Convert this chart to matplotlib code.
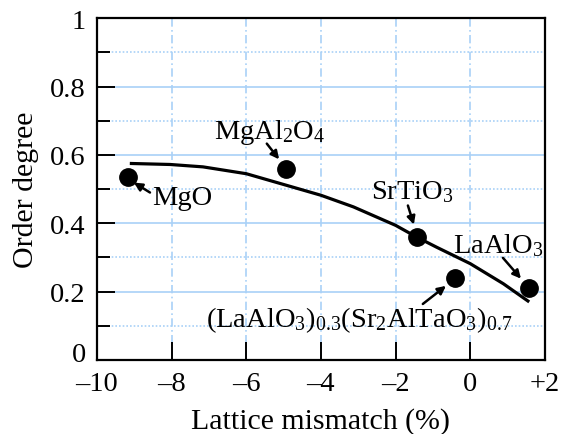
import numpy as np
import matplotlib
matplotlib.use('Agg')
import matplotlib.pyplot as plt
import matplotlib.transforms as mtransforms
from matplotlib.ticker import MultipleLocator

plt.rcParams['font.family'] = ['Liberation Serif', 'DejaVu Serif']
plt.rcParams['mathtext.fontset'] = 'custom'
plt.rcParams['mathtext.rm'] = 'Liberation Serif'
plt.rcParams['mathtext.it'] = 'Liberation Serif:italic'

# measured points
names = ['MgO', r'MgAl$_2$O$_4$', r'SrTiO$_3$',
         r'(LaAlO$_3$)$_{0.3}$(Sr$_2$AlTaO$_3$)$_{0.7}$', r'LaAlO$_3$']
mismatch = [-9.17, -4.94, -1.43, -0.41, 1.57]
order = [0.534, 0.560, 0.361, 0.240, 0.211]

# trend curve
curve_x = [-9.12, -8.04, -7.16, -6.0, -4.92, -4.0, -3.13, -2.0, -1.44, -0.90, 0.0, 0.89, 1.58]
curve_y = [0.575, 0.572, 0.565, 0.545, 0.511, 0.482, 0.448, 0.394, 0.360, 0.330, 0.282, 0.223, 0.170]

xticks = [-10, -8, -6, -4, -2, 0, 2]
xticklabels = ['\u201310', '\u20138', '\u20136', '\u20134', '\u20132', '0', '+2']
yticks = [0, 0.2, 0.4, 0.6, 0.8, 1.0]
yticklabels = ['0', '0.2', '0.4', '0.6', '0.8', '1']

# label placement: (text x, text y, ha, arrow tail, arrow head)
label_pos = [
    (-8.53, 0.475, 'left', (-8.58, 0.49), (-9.01, 0.519)),
    (-6.87, 0.669, 'left', (-5.45, 0.633), (-5.12, 0.587)),
    (-2.66, 0.493, 'left', (-1.67, 0.452), (-1.51, 0.396)),
    (-2.98, 0.120, 'center', (-1.27, 0.164), (-0.65, 0.217)),
    (-0.46, 0.337, 'left', (0.876, 0.299), (1.36, 0.238)),
]

grid_c = '#a9d1f7'

fig = plt.figure(figsize=(5.67, 4.35), dpi=100)
ax = fig.add_axes([0.171, 0.170, 0.790, 0.786])

ax.set_xlim(-10, 2)
ax.set_ylim(0, 1)

# grid
for y in np.arange(0.2, 1.0, 0.2):
    ax.axhline(y, color=grid_c, lw=1.2, zorder=0)
for y in np.arange(0.1, 1.0, 0.2):
    ax.axhline(y, color=grid_c, lw=1.2, ls=(0, (1, 1.2)), zorder=0)
for x in [-8, -6, -4, -2, 0]:
    ax.axvline(x, color=grid_c, lw=1.2, ls=(0, (5, 2, 1, 2)), zorder=0)

ax.plot(curve_x, curve_y, color='black', lw=2.3, zorder=2,
        solid_joinstyle='round', solid_capstyle='butt')
ax.plot(mismatch, order, 'o', color='black', ms=12.5, zorder=3)

for name, (tx, ty, ha, tail, head) in zip(names, label_pos):
    ax.text(tx, ty, name, fontsize=20.5, ha=ha, va='center', zorder=4)
    ax.annotate('', xy=head, xytext=tail,
                arrowprops=dict(arrowstyle='-|>', color='black', lw=1.8,
                                mutation_scale=12, shrinkA=0, shrinkB=0))

ax.set_xticks(xticks)
ax.set_xticklabels(xticklabels)
ax.set_yticks(yticks)
ax.set_yticklabels(yticklabels)
ax.yaxis.set_minor_locator(MultipleLocator(0.1))
ax.tick_params(which='major', direction='in', length=13, width=1.4, labelsize=20.5, pad=8)
ax.tick_params(which='minor', direction='in', length=9, width=1.4)
ax.tick_params(axis='x', which='minor', length=0)

# the "0" on the y axis sits a bit higher, clear of the x labels
zero_lbl = ax.get_yticklabels()[0]
zero_lbl.set_transform(zero_lbl.get_transform() +
                       mtransforms.ScaledTranslation(0, 6 / 72, fig.dpi_scale_trans))

for s in ax.spines.values():
    s.set_linewidth(1.6)

ax.set_xlabel('Lattice mismatch (%)', fontsize=21.5, labelpad=8)
ax.set_ylabel('Order degree', fontsize=21.5, labelpad=8)

fig.savefig('out.png', dpi=100)
